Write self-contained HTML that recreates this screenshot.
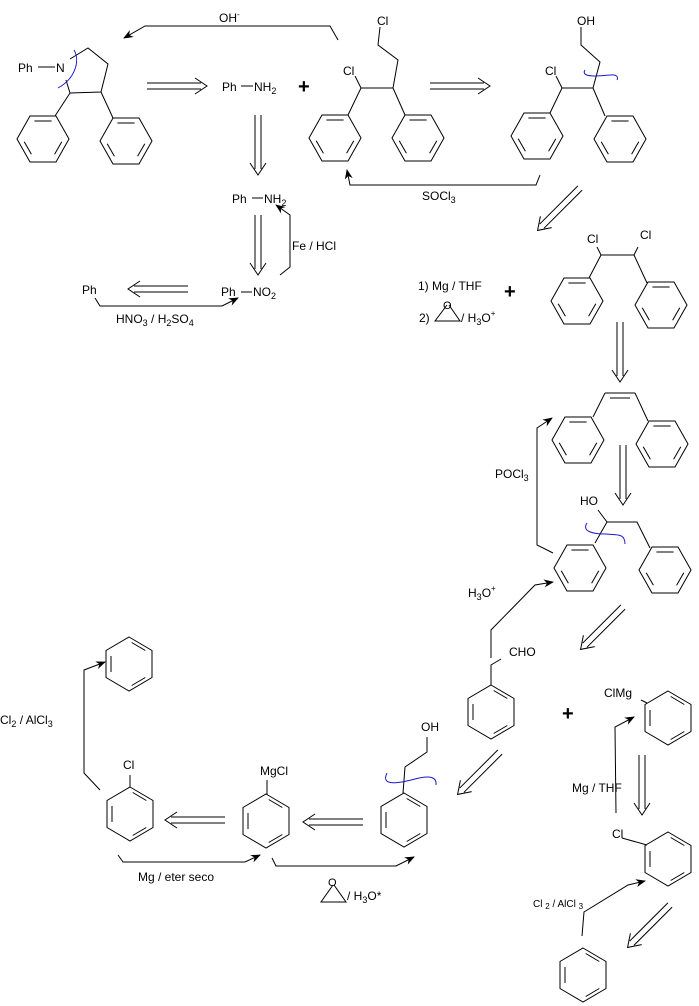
<!DOCTYPE html>
<html><head><meta charset="utf-8"><style>
html,body{margin:0;padding:0;background:#fff;}
svg{display:block;font-family:"Liberation Sans",Arial,sans-serif;font-size:12px;}
</style></head><body>
<svg width="699" height="1006" viewBox="0 0 699 1006" xmlns="http://www.w3.org/2000/svg">
<defs>
<marker id="ah" markerWidth="10" markerHeight="8" refX="9" refY="4" orient="auto" markerUnits="userSpaceOnUse">
<path d="M0,0 L10,4 L0,8 L3,4 z" fill="#000"/>
</marker>
<g id="ringA" fill="none" stroke="#000" stroke-width="1">
<polygon points="-26,0 -13,-23 13,-23 26,0 13,23 -13,23"/>
<line x1="-8.6" y1="-18" x2="8.6" y2="-18"/>
<line x1="18.8" y1="2.7" x2="11.6" y2="15.2"/>
<line x1="-18.8" y1="2.7" x2="-11.6" y2="15.2"/>
</g>
<g id="ringB" fill="none" stroke="#000" stroke-width="1">
<polygon points="0,-27 23,-13.5 23,13.5 0,27 -23,13.5 -23,-13.5"/>
<line x1="-18" y1="-8" x2="-18" y2="8"/>
<line x1="2.7" y1="-21.5" x2="16.3" y2="-13.5"/>
<line x1="2.7" y1="21.5" x2="16.3" y2="13.5"/>
</g>
<g id="retro" fill="none" stroke="#000" stroke-width="1">
<line x1="0" y1="-3" x2="54" y2="-3"/>
<line x1="0" y1="3" x2="54" y2="3"/>
<path d="M48,-8 L60,0 L48,8"/>
</g>
</defs>

<g fill="none" stroke="#000" stroke-width="1">
<line x1="38" y1="67" x2="55" y2="67"/>
<path d="M70,59 L88,48 L108,64 L101,92 L70,93 L66,80"/>
<line x1="70" y1="93" x2="55" y2="116"/>
<line x1="101" y1="92" x2="113" y2="118"/>
<path d="M338,40 L330,26 L145,26 L124,38" marker-end="url(#ah)"/>
<path d="M380,27 L378,45 L398,60 L393,88 L361,88 L348,115"/>
<line x1="361" y1="88" x2="355" y2="76"/>
<line x1="393" y1="88" x2="405" y2="115"/>
<path d="M581,27 L581,45 L600,62 L593,88 L562,88 L550,113"/>
<line x1="562" y1="88" x2="556" y2="76"/>
<line x1="593" y1="88" x2="605" y2="116"/>
<path d="M540,175 L536,185 L350,185 L347,170" marker-end="url(#ah)"/>
<path d="M280,275 L290,267 L290,215 L276,205" marker-end="url(#ah)"/>
<line x1="252" y1="198" x2="263" y2="198"/>
<path d="M95,298 L100,306 L222,306 L238,298" marker-end="url(#ah)"/>
<path d="M447,305 L435,321 L460,321 L449,305"/>
<path d="M597,247 L601,255 L634,255 L638,247"/>
<line x1="601" y1="255" x2="589" y2="278"/>
<line x1="634" y1="255" x2="647" y2="283"/>
<line x1="605" y1="393" x2="635" y2="393"/>
<line x1="610" y1="398" x2="630" y2="398"/>
<line x1="605" y1="393" x2="593" y2="417"/>
<line x1="635" y1="393" x2="648" y2="421"/>
<path d="M598,510 L607,522 L637,522 L650,548"/>
<line x1="607" y1="522" x2="595" y2="543"/>
<path d="M553,553 L537,545 L537,428 L552,418" marker-end="url(#ah)"/>
<path d="M491,658 L491,630 L535,585 L553,582" marker-end="url(#ah)"/>
<path d="M491,685 L491,665 L501,659"/>
<path d="M616,813 L615,727 L634,717" marker-end="url(#ah)"/>
<line x1="641" y1="700" x2="647" y2="703"/>
<line x1="622" y1="838" x2="647" y2="845"/>
<path d="M582,936 L584,912 L628,885 L645,881" marker-end="url(#ah)"/>
<path d="M100,790 L84,773 L84,670 L105,662" marker-end="url(#ah)"/>
<line x1="130" y1="787" x2="130" y2="775"/>
<line x1="267" y1="795" x2="267" y2="780"/>
<path d="M403,793 L405,767 L427,752 L427,737"/>
<path d="M118,855 L123,862 L245,862 L260,855" marker-end="url(#ah)"/>
<path d="M272,858 L276,866 L396,866 L414,857" marker-end="url(#ah)"/>
<path d="M333,885 L321,902 L346,902 L334,885"/>
</g>

<g fill="none" stroke="#1a1acc" stroke-width="1">
<path d="M74,50 C80,60 76,78 58,88"/>
<path d="M585,70 C580,78 600,76 610,75 C618,74 618,78 617,80"/>
<path d="M587,523 C581,532 595,534 605,534 C617,535 625,533 625,544"/>
<path d="M387,773 C380,787 400,783 415,779 C430,775 437,777 436,785"/>
</g>

<use href="#ringA" transform="translate(43,139)"/>
<use href="#ringA" transform="translate(126,141)"/>
<use href="#ringA" transform="translate(335,138)"/>
<use href="#ringA" transform="translate(418,138)"/>
<use href="#ringA" transform="translate(537,136)"/>
<use href="#ringA" transform="translate(620,139)"/>
<use href="#ringA" transform="translate(577,301)"/>
<use href="#ringA" transform="translate(661,305)"/>
<use href="#ringA" transform="translate(578,440)"/>
<use href="#ringA" transform="translate(662,444)"/>
<use href="#ringA" transform="translate(580,568)"/>
<use href="#ringA" transform="translate(665,570)"/>
<use href="#ringB" transform="translate(491,712)"/>
<use href="#ringB" transform="translate(668,718)"/>
<use href="#ringB" transform="translate(668,859)"/>
<use href="#ringB" transform="translate(583,975)"/>
<use href="#ringB" transform="translate(129,664)"/>
<use href="#ringB" transform="translate(130,814)"/>
<use href="#ringB" transform="translate(266,821)"/>
<use href="#ringB" transform="translate(404,820)"/>

<use href="#retro" transform="translate(147,86)"/>
<use href="#retro" transform="translate(430,86)"/>
<use href="#retro" transform="translate(258,115) rotate(90)"/>
<use href="#retro" transform="translate(258,215) rotate(90)"/>
<use href="#retro" transform="translate(188,289) rotate(180)"/>
<use href="#retro" transform="translate(580,188) rotate(135)"/>
<use href="#retro" transform="translate(620,322) rotate(90)"/>
<use href="#retro" transform="translate(623,445) rotate(90)"/>
<use href="#retro" transform="translate(623,607) rotate(135)"/>
<use href="#retro" transform="translate(500,752) rotate(135)"/>
<use href="#retro" transform="translate(642,755) rotate(90)"/>
<use href="#retro" transform="translate(670,905) rotate(135)"/>
<use href="#retro" transform="translate(225,820) rotate(180)"/>
<use href="#retro" transform="translate(363,822) rotate(180)"/>

<text x="219" y="22">OH<tspan font-size="8" dy="-5">-</tspan></text>
<text x="18" y="72">Ph</text><text x="56" y="72">N</text>
<text x="222" y="91">Ph</text><line x1="241" y1="86" x2="253" y2="86" stroke="#000"/><text x="254" y="91">NH<tspan font-size="9" dy="3">2</tspan></text>
<text x="298" y="93" font-size="20" font-weight="bold">+</text>
<text x="377" y="25">Cl</text>
<text x="343" y="75">Cl</text>
<text x="577" y="25">OH</text>
<text x="545" y="75">Cl</text>
<text x="422" y="200">SOCl<tspan font-size="9" dy="3">3</tspan></text>
<text x="232" y="203">Ph</text><text x="264" y="203">NH<tspan font-size="9" dy="3">2</tspan></text>
<text x="292" y="250">Fe / HCl</text>
<text x="221" y="296">Ph</text><line x1="241" y1="292" x2="252" y2="292" stroke="#000"/><text x="253" y="296">NO<tspan font-size="9" dy="3">2</tspan></text>
<text x="82" y="294">Ph</text>
<text x="116" y="323">HNO<tspan font-size="9" dy="3">3</tspan><tspan dy="-3"> / H</tspan><tspan font-size="9" dy="3">2</tspan><tspan dy="-3">SO</tspan><tspan font-size="9" dy="3">4</tspan></text>
<text x="418" y="290">1) Mg / THF</text>
<text x="419" y="322">2)</text>
<text x="443" y="309" font-size="11">O</text>
<text x="461" y="322">/ H<tspan font-size="9" dy="3">3</tspan><tspan dy="-3">O</tspan><tspan font-size="8" dy="-6">+</tspan></text>
<text x="504" y="298" font-size="20" font-weight="bold">+</text>
<text x="587" y="243">Cl</text>
<text x="640" y="239">Cl</text>
<text x="495" y="478">POCl<tspan font-size="9" dy="3">3</tspan></text>
<text x="580" y="505">HO</text>
<text x="468" y="597">H<tspan font-size="9" dy="3">3</tspan><tspan dy="-3">O</tspan><tspan font-size="8" dy="-6">+</tspan></text>
<text x="509" y="656">CHO</text>
<text x="562" y="720" font-size="20" font-weight="bold">+</text>
<text x="604" y="697">ClMg</text>
<text x="572" y="792">Mg / THF</text>
<text x="612" y="838">Cl</text>
<text x="533" y="907" font-size="10">Cl <tspan font-size="8" dy="2">2</tspan><tspan dy="-2"> / AlCl </tspan><tspan font-size="8" dy="2">3</tspan></text>
<text x="0" y="724">Cl<tspan font-size="9" dy="3">2</tspan><tspan dy="-3"> / AlCl</tspan><tspan font-size="9" dy="3">3</tspan></text>
<text x="123" y="769">Cl</text>
<text x="260" y="775">MgCl</text>
<text x="421" y="731">OH</text>
<text x="138" y="881">Mg / eter seco</text>
<text x="328" y="886" font-size="11">O</text>
<text x="347" y="900">/ H<tspan font-size="9" dy="3">3</tspan><tspan dy="-3">O*</tspan></text>
</svg>
</body></html>
